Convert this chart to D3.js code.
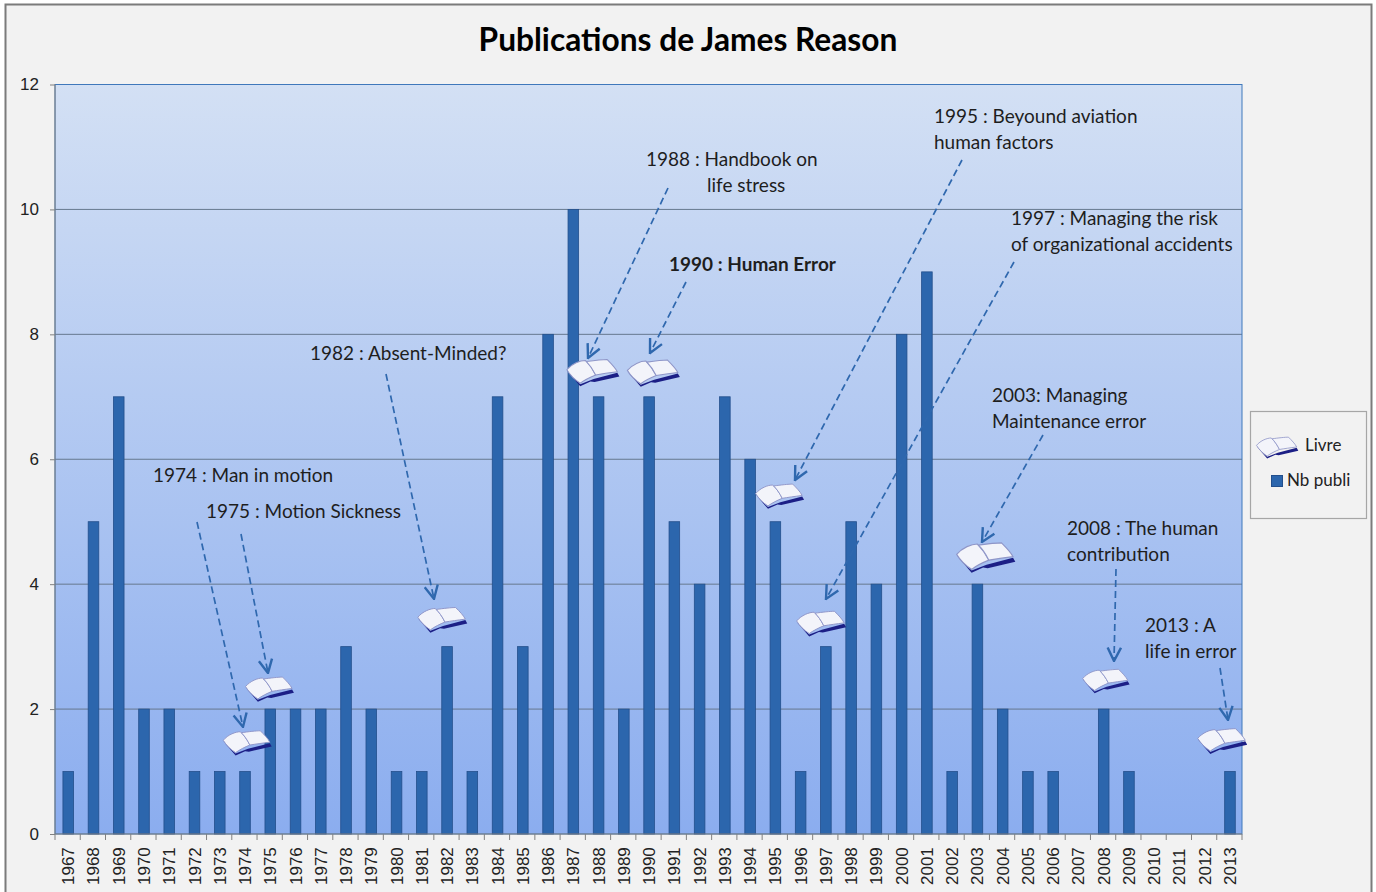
<!DOCTYPE html>
<html><head><meta charset="utf-8">
<script src="https://cdn.jsdelivr.net/npm/d3@7/dist/d3.min.js"></script>
<style>html,body{margin:0;padding:0;background:#fff;overflow:hidden}svg{display:block}</style>
</head><body><svg id="c" width="1376" height="892"></svg>
<script>
const years = d3.range(1967, 2014).map(String);
const nbPubli = [1,5,7,2,2,1,1,1,2,2,2,3,2,1,1,3,1,7,3,8,10,7,2,7,5,4,7,6,5,1,3,5,4,8,9,1,4,2,1,1,0,2,1,0,0,0,1];
const tickValues = [0,2,4,6,8,10,12];
const bookYears = [1974,1975,1982,1988,1990,1995,1997,2003,2008,2013];
const bookValues = [1.47,2.33,3.44,7.4,7.39,5.42,3.38,4.44,2.46,1.5];
const bookShift = [2,-1,-5,-6,4,4,-5,8,2,-8];
const bookScale = [.95,.95,.97,1.03,1.03,.95,.97,1.15,.92,.97];
const notes = [
 {lines:["1974 : Man in motion"],x:153,y:482,a:[197,522,243,727]},
 {lines:["1975 : Motion Sickness"],x:206,y:518,a:[241,534,268,673]},
 {lines:["1982 : Absent-Minded?"],x:310,y:360,a:[386,374,434,599]},
 {lines:["1988 : Handbook on","life stress"],x:646,y:166,dx:[0,61],a:[668,188,588,358]},
 {lines:["1990 : Human Error"],x:669,y:271,bold:true,a:[686,282,650,353]},
 {lines:["1995 : Beyound aviation","human factors"],x:934,y:123,a:[962,160,795,480]},
 {lines:["1997 : Managing the risk","of organizational accidents"],x:1011,y:225,a:[1014,262,826,599]},
 {lines:["2003: Managing","Maintenance error"],x:992,y:402,a:[1043,435,982,542]},
 {lines:["2008 : The human","contribution"],x:1067,y:535,a:[1116,569,1114,661]},
 {lines:["2013 : A","life in error"],x:1145,y:632,a:[1220,668,1228,720]}
];
const font = "Lato, 'Open Sans', sans-serif";
const svg = d3.select("#c");
const defs = svg.append("defs");
const grad = defs.append("linearGradient").attr("id","bg").attr("x1",0).attr("x2",0).attr("y1",0).attr("y2",1);
grad.append("stop").attr("offset","0%").attr("stop-color","#d3e0f4");
grad.append("stop").attr("offset","100%").attr("stop-color","#8badef");
const mk = defs.append("marker").attr("id","arr").attr("viewBox","0 0 12 12").attr("refX",11).attr("refY",6)
  .attr("markerUnits","userSpaceOnUse").attr("markerWidth",16).attr("markerHeight",16).attr("orient","auto");
mk.append("path").attr("d","M1,1 L11,6 L1,11").attr("fill","none").attr("stroke","#2f68ae").attr("stroke-width",1.8);

svg.append("rect").attr("x",5.5).attr("y",4.5).attr("width",1366).attr("height",900)
  .attr("fill","#f2f2f2").attr("stroke","#7b7b7b").attr("stroke-width",2);

const L=55,R=1242,T=84.5,B=834;
const x = d3.scaleBand().domain(years).range([L+.6,R+.6]);
const y = d3.scaleLinear().domain([0,12]).range([B,T]);

svg.append("rect").attr("x",L).attr("y",T).attr("width",R-L).attr("height",B-T).attr("fill","url(#bg)");
svg.append("g").selectAll("line").data(tickValues.filter(d=>d>0&&d<12)).join("line")
  .attr("x1",L).attr("x2",R).attr("y1",d=>y(d)).attr("y2",d=>y(d)).attr("stroke","#66788e").attr("stroke-width",1);
svg.append("rect").attr("x",L).attr("y",T).attr("width",R-L).attr("height",B-T).attr("fill","none").attr("stroke","#3f78bb").attr("stroke-width",1);

const barW = 10.6;
svg.append("g").selectAll("rect").data(years.map((d,i)=>({year:d,v:nbPubli[i]})).filter(d=>d.v>0)).join("rect")
  .attr("x",d=>x(d.year)+x.bandwidth()/2-barW/2).attr("width",barW)
  .attr("y",d=>y(d.v)).attr("height",d=>B-y(d.v))
  .attr("fill","#2c66ad").attr("stroke","#234f8c").attr("stroke-width",.8);

const yAxis = d3.axisLeft(y).tickValues(tickValues).tickSize(5).tickPadding(11);
const yg = svg.append("g").attr("transform",`translate(${L},0)`).call(yAxis);
yg.selectAll("text").attr("font-family","'Liberation Sans', Arial, sans-serif").attr("font-size",17).attr("fill","#222");
yg.selectAll("line").attr("stroke","#808080");
yg.select(".domain").attr("stroke","#808080").attr("d",`M0,${T}V${B}`);

const xg = svg.append("g").attr("transform",`translate(0,${B})`);
xg.append("line").attr("x1",L).attr("x2",R).attr("y1",0).attr("y2",0).attr("stroke","#808080");
xg.selectAll(".t").data(years.concat("end")).join("line").attr("class","t")
  .attr("x1",(d,i)=>L+i*x.step()).attr("x2",(d,i)=>L+i*x.step()).attr("y1",0).attr("y2",6).attr("stroke","#808080");
xg.selectAll("text").data(years).join("text")
  .attr("transform",d=>`translate(${x(d)+x.bandwidth()/2+6},51) rotate(-90)`)
  .attr("font-family","'Liberation Sans', Arial, sans-serif").attr("font-size",17).attr("fill","#222").text(d=>d);

function book(g){
  g.append("path").attr("d","M-25,-1 L-12,14 L-2,9.5 L2,10 L26,4.5 L24,1 L1,7 L-12,12 Z").attr("fill","#1c1f86");
  g.append("path").attr("d","M-25,-2 C-20,-8 -12,-11 -7,-11 C-3,-7 0,-3 3,3 C-2,5 -8,8 -12,11 C-17,8 -22,3 -25,-2 Z")
    .attr("fill","#f3f4fa").attr("stroke","#8f96c8").attr("stroke-width",1);
  g.append("path").attr("d","M3,3 C-0,-3 -3,-7 -6,-10 C1,-11 10,-12 14,-12 C18,-8 22,-4 24,0 C16,1 9,2 3,3 Z")
    .attr("fill","#f3f4fa").attr("stroke","#8f96c8").attr("stroke-width",1);
}
bookYears.forEach((yr,i)=>{
  const cx = x(String(yr))+x.bandwidth()/2+bookShift[i];
  const g = svg.append("g").attr("transform",`translate(${cx},${y(bookValues[i])}) scale(${bookScale[i]})`);
  book(g);
});

notes.forEach(n=>{
  svg.append("line").attr("x1",n.a[0]).attr("y1",n.a[1]).attr("x2",n.a[2]).attr("y2",n.a[3])
    .attr("stroke","#2f68ae").attr("stroke-width",1.7).attr("stroke-dasharray","7 4").attr("marker-end","url(#arr)");
  n.lines.forEach((s,i)=>{
    svg.append("text").attr("x",n.x+(n.dx?n.dx[i]:0)).attr("y",n.y+i*25.7)
      .attr("font-family",font).attr("font-size",19).attr("font-weight",n.bold?700:400).attr("fill","#1e1e1e").text(s);
  });
});

svg.append("text").attr("x",688).attr("y",51).attr("text-anchor","middle")
  .attr("font-family",font).attr("font-size",31.7).attr("font-weight",700).attr("fill","#000").text("Publications de James Reason");

const lg = svg.append("g");
lg.append("rect").attr("x",1250.5).attr("y",411.5).attr("width",116).attr("height",107).attr("fill","#f2f2f2").attr("stroke","#a6a6a6").attr("stroke-width",1.2);
const lb = lg.append("g").attr("transform","translate(1277,447) scale(.82)");
book(lb);
lg.append("text").attr("x",1305).attr("y",451).attr("font-family",font).attr("font-size",17).attr("fill","#222").text("Livre");
lg.append("rect").attr("x",1271.5).attr("y",475.5).attr("width",11).attr("height",11).attr("fill","#2c66ad").attr("stroke","#234f8c");
lg.append("text").attr("x",1287).attr("y",486).attr("font-family",font).attr("font-size",17).attr("fill","#222").text("Nb publi");
</script></body></html>
